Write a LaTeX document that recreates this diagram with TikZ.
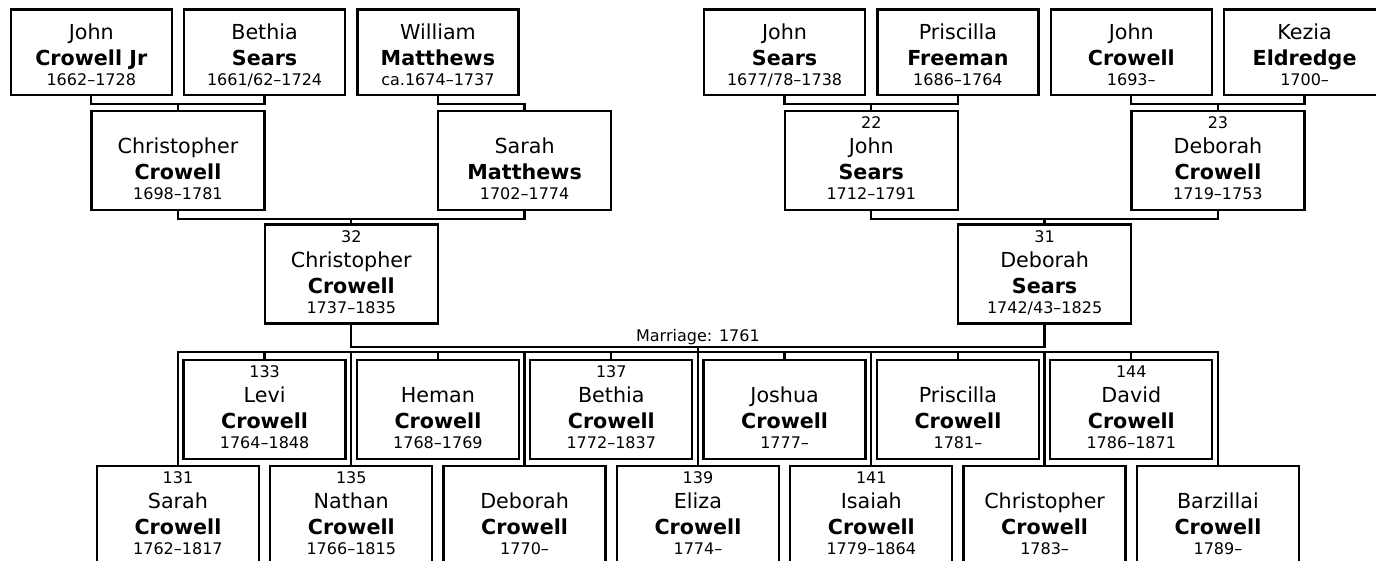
\documentclass[tikz,border=0pt]{standalone}
\usepackage{fontspec}
\setmainfont{DejaVu Sans}

\newcommand{\yrs}[1]{{\fontsize{12}{14}\selectfont #1}}
\newcommand{\oldgen}[3]{#1\\\textbf{#2}\\[-4.5pt]\yrs{#3}}
\newcommand{\person}[4]{\mbox{\yrs{#1}}\\[-0.75pt]#2\\\textbf{#3}\\[-4.5pt]\yrs{#4}}

\tikzset{
  personbox/.style={draw, line width=1.7pt, inner sep=0pt, align=center,
    font=\fontsize{15.5}{19.5}\selectfont},
  eldbox/.style={personbox, minimum width=120.75pt, text height=56.6pt, text depth=7.5pt},
  parbox/.style={personbox, minimum width=129.75pt, text height=66.4pt, text depth=7.85pt},
  kidbox/.style={personbox, minimum width=121.5pt, text height=66.4pt, text depth=7.85pt},
  tie/.style={line width=1.7pt, line cap=rect},
}

\begin{document}
\begin{tikzpicture}[x=1pt, y=-1pt, node distance=130pt]
      \useasboundingbox (0,0) rectangle (1032,420);

      \node[eldbox] (jcj) at (68.45,39.2) {\oldgen{John}{Crowell Jr}{1662--1728}};
      \node[eldbox, right of=jcj] (bsr) {\oldgen{Bethia}{Sears}{1661/62--1724}};
      \node[eldbox, right of=bsr] (wma) {\oldgen{William}{Matthews}{ca.1674--1737}};
      \node[eldbox, right of=wma, xshift=130pt] (jse) {\oldgen{John}{Sears}{1677/78--1738}};
      \node[eldbox, right of=jse] (pfr) {\oldgen{Priscilla}{Freeman}{1686--1764}};
      \node[eldbox, right of=pfr] (jcr) {\oldgen{John}{Crowell}{1693--}};
      \node[eldbox, right of=jcr] (kel) {\oldgen{Kezia}{Eldredge}{1700--}};

      \node[parbox] (ccr) at (133.45,120.4) {\person{}{Christopher}{Crowell}{1698--1781}};
      \node[parbox, right of=ccr, xshift=130pt] (sma) {\person{}{Sarah}{Matthews}{1702--1774}};
      \node[parbox, right of=sma, xshift=130pt] (jsn) {\person{22}{John}{Sears}{1712--1791}};
      \node[parbox, right of=jsn, xshift=130pt] (dcr) {\person{23}{Deborah}{Crowell}{1719--1753}};

      \node[parbox] (chr) at (263.45,205.5) {\person{32}{Christopher}{Crowell}{1737--1835}};
      \node[parbox, right of=chr, xshift=390pt] (dse) {\person{31}{Deborah}{Sears}{1742/43--1825}};

      \node[kidbox] (levi) at (198.45,307.1) {\person{133}{Levi}{Crowell}{1764--1848}};
      \node[kidbox, right of=levi] (heman) {\person{}{Heman}{Crowell}{1768--1769}};
      \node[kidbox, right of=heman] (bethia) {\person{137}{Bethia}{Crowell}{1772--1837}};
      \node[kidbox, right of=bethia] (joshua) {\person{}{Joshua}{Crowell}{1777--}};
      \node[kidbox, right of=joshua] (prisc) {\person{}{Priscilla}{Crowell}{1781--}};
      \node[kidbox, right of=prisc] (david) {\person{144}{David}{Crowell}{1786--1871}};

      \node[kidbox] (sarah) at (133.45,386.6) {\person{131}{Sarah}{Crowell}{1762--1817}};
      \node[kidbox, right of=sarah] (nathan) {\person{135}{Nathan}{Crowell}{1766--1815}};
      \node[kidbox, right of=nathan] (deborah) {\person{}{Deborah}{Crowell}{1770--}};
      \node[kidbox, right of=deborah] (eliza) {\person{139}{Eliza}{Crowell}{1774--}};
      \node[kidbox, right of=eliza] (isaiah) {\person{141}{Isaiah}{Crowell}{1779--1864}};
      \node[kidbox, right of=isaiah] (christ) {\person{}{Christopher}{Crowell}{1783--}};
      \node[kidbox, right of=christ] (barz) {\person{}{Barzillai}{Crowell}{1789--}};

      \draw[tie] (jcj.south) -- ++(0,-5.75pt) coordinate (u1) -| (bsr.south);
      \draw[tie] (ccr.north) -- (ccr.north |- u1);
      \draw[tie] (wma.south) -- ++(0,-5.75pt) -| (sma.north);
      \draw[tie] (jse.south) -- ++(0,-5.75pt) coordinate (u2) -| (pfr.south);
      \draw[tie] (jsn.north) -- (jsn.north |- u2);
      \draw[tie] (jcr.south) -- ++(0,-5.75pt) coordinate (u3) -| (kel.south);
      \draw[tie] (dcr.north) -- (dcr.north |- u3);

      \draw[tie] (ccr.south) -- ++(0,-5.6pt) coordinate (u4) -| (sma.south);
      \draw[tie] (chr.north) -- (chr.north |- u4);
      \draw[tie] (jsn.south) -- ++(0,-5.6pt) coordinate (u5) -| (dcr.south);
      \draw[tie] (dse.north) -- (dse.north |- u5);

      \draw[tie] (chr.south) -- ++(0,-16.5pt) coordinate (wed) -| (dse.south);
      \path (wed -| eliza.north) ++(0,3.75pt) node[anchor=base, font=\fontsize{12}{14}\selectfont] (wedlbl) {Marriage: 1761};

      \coordinate (kl) at (0,264);
      \draw[tie] (sarah.north |- kl) -- (barz.north |- kl);
      \draw[tie] (wed -| eliza.north) -- (eliza.north);
      \foreach \k in {sarah,nathan,deborah,isaiah,christ,barz,levi,heman,bethia,joshua,prisc,david}
        \draw[tie] (\k.north) -- (\k.north |- kl);
    \end{tikzpicture}
\end{document}
